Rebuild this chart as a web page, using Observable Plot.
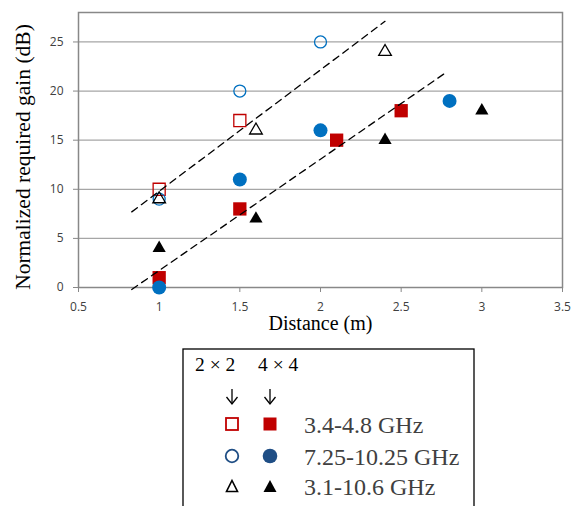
<!DOCTYPE html>
<html><head><meta charset="utf-8">
<script src="https://cdn.jsdelivr.net/npm/d3@7"></script>
<script src="https://cdn.jsdelivr.net/npm/@observablehq/plot@0.6"></script>
<style>
html,body{margin:0;padding:0;background:#fff;overflow:hidden;width:572px;height:506px;}
#chart svg{display:block}
</style></head><body><div id="chart"></div>
<script>
// ticks
const xTicks = [0.5, 1, 1.5, 2, 2.5, 3, 3.5];
const yTicks = [0, 5, 10, 15, 20, 25];
// 2x2 series
const sq2Dist = [1, 1.5],      sq2Gain = [10, 17];
const ci2Dist = [1, 1.5, 2],   ci2Gain = [9, 20, 25];
const tr2Dist = [1, 1.6, 2.4], tr2Gain = [9, 16, 24];
// 4x4 series
const sq4Dist = [1, 1.5, 2.1, 2.5], sq4Gain = [1, 8, 15, 18];
const ci4Dist = [1, 1.5, 2, 2.8],   ci4Gain = [0, 11, 16, 19];
const tr4Dist = [1, 1.6, 2.4, 3],   tr4Gain = [4, 7, 15, 18];
// dashed trend lines (end points)
const trendUpperDist = [0.83, 2.4],  trendUpperGain = [7.7, 27.1];
const trendLowerDist = [0.83, 2.77], trendLowerGain = [-0.2, 21.8];
// legend
const bandLabels = ["3.4-4.8 GHz", "7.25-10.25 GHz", "3.1-10.6 GHz"];
const configLabels = ["2×2", "4×4"];

const RED = "#C00000", BLUE = "#0070C0";
const pts = (xs, ys) => xs.map((x, i) => ({x, y: ys[i]}));

const plot = Plot.plot({
  width: 572, height: 345,
  marginLeft: 78, marginRight: 10, marginTop: 12, marginBottom: 58,
  x: {domain: [0.5, 3.5]},
  y: {domain: [0, 28]},
  style: {fontFamily: "'Open Sans', sans-serif", fontSize: "12px", color: "#404040", background: "#fff"},
  marks: [
    Plot.ruleY(yTicks.filter(d => d > 0), {stroke: "#a6a6a6", strokeWidth: 1.3}),
    Plot.frame({stroke: "#888", strokeWidth: 1.5}),
    Plot.axisX({ticks: xTicks, tickSize: 5, tickPadding: 10, tickFormat: d => String(d), stroke: "#888", fill: "#404040", label: null}),
    Plot.axisY({ticks: yTicks, tickSize: 5, tickPadding: 10, tickFormat: d => String(d), stroke: "#888", fill: "#404040", label: null}),
    // 4x4 filled
    Plot.dot(pts(sq4Dist, sq4Gain), {x: "x", y: "y", symbol: "square", r: 7.5, fill: RED}),
    Plot.dot(pts(ci4Dist, ci4Gain), {x: "x", y: "y", symbol: "circle", r: 7, fill: BLUE}),
    Plot.dot(pts(tr4Dist, tr4Gain), {x: "x", y: "y", symbol: "triangle", r: 4.9, fill: "black"}),
    // 2x2 open
    Plot.dot(pts(sq2Dist, sq2Gain), {x: "x", y: "y", symbol: "square", r: 6.8, fill: "none", stroke: RED, strokeWidth: 1.3}),
    Plot.dot(pts(ci2Dist, ci2Gain), {x: "x", y: "y", symbol: "circle", r: 6, fill: "none", stroke: BLUE, strokeWidth: 1.3}),
    Plot.dot(pts(tr2Dist, tr2Gain), {x: "x", y: "y", symbol: "triangle", r: 4.7, fill: "none", stroke: "black", strokeWidth: 1.3}),
    // trend lines
    Plot.line(pts(trendUpperDist, trendUpperGain), {x: "x", y: "y", stroke: "black", strokeWidth: 1.3, strokeDasharray: "7,5"}),
    Plot.line(pts(trendLowerDist, trendLowerGain), {x: "x", y: "y", stroke: "black", strokeWidth: 1.3, strokeDasharray: "7,5"}),
    // axis titles
    Plot.text(["Distance (m)"], {frameAnchor: "bottom", dy: 42, fontSize: 20, fontFamily: "'Liberation Serif', serif", fill: "black"}),
    Plot.text(["Normalized required gain (dB)"], {frameAnchor: "left", textAnchor: "middle", dx: -55, dy: 7, rotate: -90, fontSize: 21.5, fontFamily: "'Liberation Serif', serif", fill: "black"})
  ]
});
document.getElementById("chart").appendChild(plot);

// legend below the plot
const lg = d3.select("#chart").append("svg")
  .attr("width", 572).attr("height", 161)
  .style("display", "block");
lg.append("rect").attr("x", 183).attr("y", 4).attr("width", 291).attr("height", 220)
  .attr("fill", "none").attr("stroke", "black").attr("stroke-width", 1.3);
const colX = [232, 270];
const headX = [195, 258];
configLabels.forEach((t, i) => {
  lg.append("text").attr("x", headX[i]).attr("y", 26).attr("text-anchor", "start")
    .attr("font-family", "'Liberation Serif', serif").attr("font-size", 19.5)
    .attr("fill", "black").text(t.replace("×", " × "));
  const a = lg.append("g").attr("stroke", "black").attr("stroke-width", 1.3).attr("fill", "none");
  a.append("line").attr("x1", colX[i]).attr("x2", colX[i]).attr("y1", 44).attr("y2", 59);
  a.append("path").attr("d", `M${colX[i] - 5.5},${52} L${colX[i]},${59} L${colX[i] + 5.5},${52}`);
});
const rowY = [79, 111, 141];
const legCircle = "#1F4E85";
// row 1 squares
lg.append("rect").attr("x", colX[0] - 6).attr("y", rowY[0] - 6).attr("width", 12).attr("height", 12)
  .attr("fill", "white").attr("stroke", RED).attr("stroke-width", 1.8);
lg.append("rect").attr("x", colX[1] - 6.5).attr("y", rowY[0] - 6.5).attr("width", 13).attr("height", 13).attr("fill", RED);
// row 2 circles
lg.append("circle").attr("cx", colX[0]).attr("cy", rowY[1]).attr("r", 6.3)
  .attr("fill", "white").attr("stroke", legCircle).attr("stroke-width", 1.8);
lg.append("circle").attr("cx", colX[1]).attr("cy", rowY[1]).attr("r", 7.3).attr("fill", legCircle);
// row 3 triangles
const tri = (cx, cy, w, h) => `M${cx},${cy - h / 2} L${cx + w / 2},${cy + h / 2} L${cx - w / 2},${cy + h / 2} Z`;
lg.append("path").attr("d", tri(colX[0], rowY[2], 11, 11)).attr("fill", "white").attr("stroke", "black").attr("stroke-width", 1.6);
lg.append("path").attr("d", tri(colX[1], rowY[2], 13, 12)).attr("fill", "black");
bandLabels.forEach((t, i) => {
  lg.append("text").attr("x", 304).attr("y", rowY[i] + 9)
    .attr("font-family", "'Liberation Serif', serif").attr("font-size", 24)
    .attr("fill", "#404040").text(t);
});
</script></body></html>
